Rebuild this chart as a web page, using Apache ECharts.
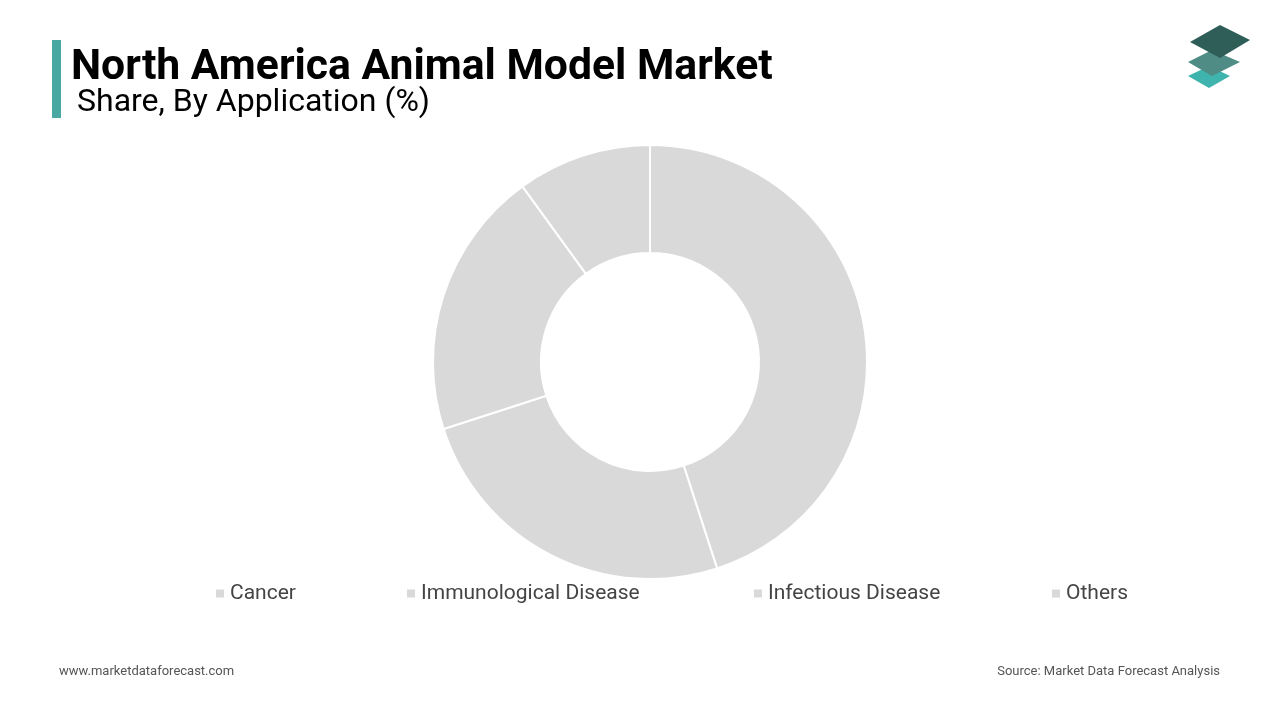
<!DOCTYPE html>
<html><head><meta charset="utf-8">
<script src="https://cdn.jsdelivr.net/npm/echarts@6/dist/echarts.min.js"></script>
<style>html,body{margin:0;padding:0;background:#fff}#c{width:1280px;height:720px}</style>
</head><body><div id="c"></div>
<script>
const categories = ['Cancer','Immunological Disease','Infectious Disease','Others'];
const values = [45,25,20,10];
const chart = echarts.init(document.getElementById('c'));
const legendX = [209,400,747,1045];
chart.setOption({
  animation:false,
  title:[
    {text:'North America Animal Model Market',left:66,top:42,textStyle:{fontFamily:'Roboto',fontWeight:'bold',fontSize:42.7,color:'#000'}},
    {text:'Share, By Application (%)',left:72,top:82,textStyle:{fontFamily:'Roboto',fontWeight:'normal',fontSize:32,color:'#000'}},
    {text:'www.marketdataforecast.com',left:54,top:660,textStyle:{fontFamily:'Roboto',fontWeight:'normal',fontSize:13,color:'#555'}},
    {text:'Source: Market Data Forecast Analysis',right:55,top:660,textStyle:{fontFamily:'Roboto',fontWeight:'normal',fontSize:13,color:'#555'}}
  ],
  graphic:[
    {type:'rect',shape:{x:52,y:40,width:9,height:78},style:{fill:'#4aa8a3'}},
    {type:'polygon',shape:{points:[[1209,66],[1230,76],[1209,88],[1188,76]]},style:{fill:'#3fb3ad'}},
    {type:'polygon',shape:{points:[[1212,50],[1240,62],[1212,76],[1188,62]]},style:{fill:'#4f8c86'}},
    {type:'polygon',shape:{points:[[1220,25],[1250,40],[1220,58],[1190,42]]},style:{fill:'#2f5d58'}}
  ],
  legend: categories.map((c,i)=>({data:[c],left:legendX[i],top:578,itemWidth:10,itemHeight:10,icon:'rect',
    textStyle:{fontFamily:'Roboto',fontSize:21,color:'#444'}})),
  series:[{type:'pie',center:[650,362],radius:[109,217],startAngle:90,clockwise:true,
    label:{show:false},labelLine:{show:false},
    itemStyle:{color:'#d9d9d9',borderColor:'#fff',borderWidth:2},
    emphasis:{disabled:true},
    data:categories.map((c,i)=>({name:c,value:values[i]}))}]
});
</script></body></html>
